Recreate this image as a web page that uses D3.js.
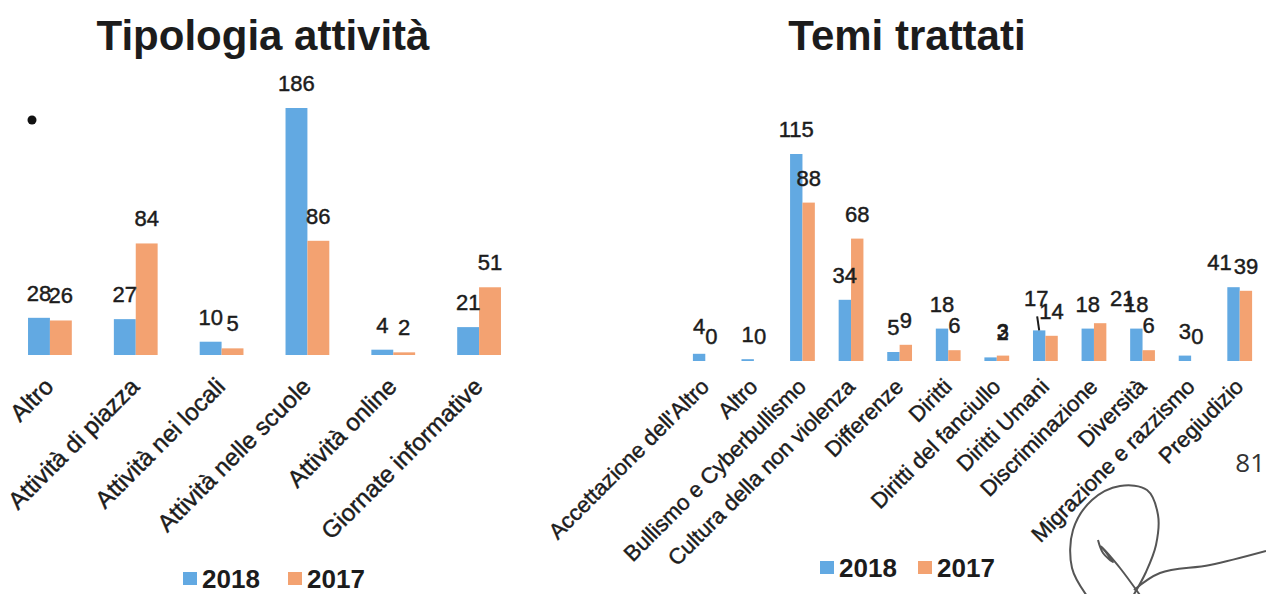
<!DOCTYPE html>
<html>
<head>
<meta charset="utf-8">
<script src="https://cdn.jsdelivr.net/npm/d3@7"></script>
<style>
  body { margin: 0; background: #fff; }
  svg { display: block; font-family: "Liberation Sans", Arial, sans-serif; }
  .ink { fill: #1c1c1c; stroke: #1c1c1c; stroke-width: 0.45px; }
</style>
</head>
<body>
<div id="chart"></div>
<script>
// dati
var series = ["2018", "2017"];

var tipologiaCats = ["Altro", "Attività di piazza", "Attività nei locali", "Attività nelle scuole", "Attività online", "Giornate informative"];
var tipologia2018 = [28, 27, 10, 186, 4, 21];
var tipologia2017 = [26, 84, 5, 86, 2, 51];

var temiCats = ["Accettazione dell'Altro", "Altro", "Bullismo e Cyberbullismo", "Cultura della non violenza", "Differenze", "Diritti", "Diritti del fanciullo", "Diritti Umani", "Discriminazione", "Diversità", "Migrazione e razzismo", "Pregiudizio"];
var temi2018 = [4, 1, 115, 34, 5, 18, 2, 17, 18, 18, 3, 41];
var temi2017 = [0, 0, 88, 68, 9, 6, 3, 14, 21, 6, 0, 39];

var colors = {"2018": "#62a9e2", "2017": "#f3a271"};

var W = 1266, H = 594;
var svg = d3.select("#chart").append("svg")
    .attr("width", W)
    .attr("height", H);

function drawChart(p) {
    var g = svg.append("g");
    var rows = p.cats.map(function(c, i) {
        return {cat: c, vals: [{s: "2018", v: p.v2018[i]}, {s: "2017", v: p.v2017[i]}]};
    });

    var x0 = d3.scaleBand().domain(p.cats).range(p.xRange)
        .paddingInner(0.49).paddingOuter(0.245);
    var x1 = d3.scaleBand().domain(series).range([0, x0.bandwidth()]);
    var y = d3.scaleLinear().domain([0, p.yMax]).range([p.base, p.yTop]);

    // titolo
    g.append("text")
        .attr("x", p.titleX).attr("y", 50)
        .attr("text-anchor", "middle")
        .style("font-size", "42px").style("font-weight", "bold")
        .style("fill", "#1c1c1c")
        .text(p.title);

    var grp = g.selectAll("g.grp").data(rows).enter().append("g")
        .attr("class", "grp")
        .attr("transform", function(d) { return "translate(" + x0(d.cat) + ",0)"; });

    grp.selectAll("rect").data(function(d) { return d.vals; }).enter().append("rect")
        .attr("x", function(d) { return x1(d.s); })
        .attr("y", function(d) { return y(d.v); })
        .attr("width", x1.bandwidth())
        .attr("height", function(d) { return Math.max(p.base - y(d.v), d.v > 0 ? 1.5 : 0); })
        .attr("fill", function(d) { return colors[d.s]; });

    // etichette valori
    grp.selectAll("text").data(function(d) { return d.vals.map(function(v) { return {cat: d.cat, s: v.s, v: v.v}; }); })
        .enter().append("text")
        .attr("class", "ink")
        .attr("x", function(d) {
            var n = p.nudge[d.cat + "|" + d.s] || [0, 0];
            return x1(d.s) + x1.bandwidth() / 2 + n[0];
        })
        .attr("y", function(d) {
            var n = p.nudge[d.cat + "|" + d.s] || [0, 0];
            return y(d.v) - 17 + n[1];
        })
        .attr("text-anchor", "middle")
        .style("font-size", "22px")
        .text(function(d) { return d.v; });

    // etichette categorie ruotate
    g.selectAll("text.cat").data(p.cats).enter().append("text")
        .attr("class", "cat ink")
        .attr("text-anchor", "end")
        .attr("transform", function(d) {
            return "translate(" + (x0(d) + x0.bandwidth() / 2 + 5) + ",388) rotate(-45)";
        })
        .style("font-size", p.catSize + "px")
        .text(function(d) { return d; });

    // legenda
    var lg = g.selectAll("g.leg").data(series).enter().append("g")
        .attr("class", "leg")
        .attr("transform", function(d, i) { return "translate(" + (p.legX + i * p.legStep) + "," + p.legY + ")"; });
    lg.append("rect")
        .attr("x", 0).attr("y", -16)
        .attr("width", 14).attr("height", 13)
        .attr("fill", function(d) { return colors[d]; });
    lg.append("text")
        .attr("x", 19).attr("y", 0)
        .style("font-size", "26px").style("font-weight", "bold")
        .style("fill", "#1c1c1c")
        .text(function(d) { return d; });

    return {x0: x0, x1: x1, y: y, g: g};
}

drawChart({
    title: "Tipologia attività", titleX: 263,
    cats: tipologiaCats, v2018: tipologia2018, v2017: tipologia2017,
    xRange: [7, 522], base: 355, yTop: 108, yMax: 186,
    catSize: 24, nudge: {},
    legX: 183, legStep: 105, legY: 588
});

var temi = drawChart({
    title: "Temi trattati", titleX: 907,
    cats: temiCats, v2018: temi2018, v2017: temi2017,
    xRange: [681, 1264], base: 361, yTop: 154, yMax: 115,
    catSize: 22,
    nudge: {
        "Accettazione dell'Altro|2018": [0, -3],
        "Diritti del fanciullo|2018": [12, 0],
        "Diritti Umani|2018": [-3, -7],
        "Discriminazione|2017": [22, 0],
        "Pregiudizio|2018": [-14, 0]
    },
    legX: 820, legStep: 98, legY: 577
});

// linea guida dell'etichetta "17"
var cu = temi.x0("Diritti Umani") + temi.x1("2018") + temi.x1.bandwidth() / 2;
temi.g.append("line")
    .attr("x1", cu - 2).attr("y1", temi.y(17) - 14)
    .attr("x2", cu).attr("y2", temi.y(17))
    .style("stroke", "#1c1c1c").style("stroke-width", 2);

// segni della scansione: punto, numero di pagina, firma
svg.append("circle").attr("cx", 32).attr("cy", 120).attr("r", 4.5).attr("fill", "#111");
svg.append("text").attr("x", 1265).attr("y", 472)
    .attr("text-anchor", "end")
    .style("font-family", "'Open Sans', sans-serif").style("font-size", "26px").style("fill", "#333")
    .text("81");

var firma = [[1087, 596], [1072, 568], [1073, 530], [1092, 500], [1120, 486], [1147, 490], [1158, 515], [1156, 545], [1146, 572], [1133, 596]];
var coda = [[1134, 590], [1160, 573], [1210, 565], [1266, 551]];
var tratto = [[1098, 540], [1103, 553], [1113, 562], [1101, 546], [1120, 568], [1142, 598]];
var line = d3.line().curve(d3.curveCatmullRom);
[firma, coda, tratto].forEach(function(pts) {
    svg.append("path").attr("d", line(pts))
        .style("fill", "none").style("stroke", "#555").style("stroke-width", 2);
});
</script>
</body>
</html>
